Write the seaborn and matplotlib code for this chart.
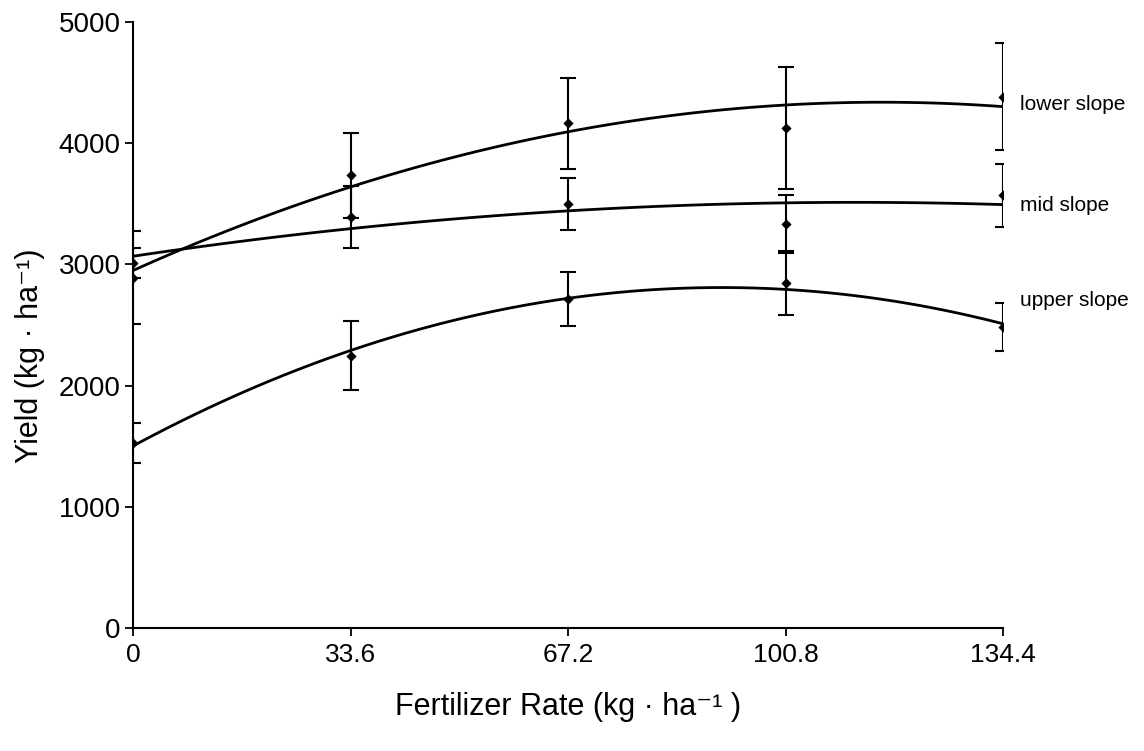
import matplotlib
matplotlib.use("Agg")
import matplotlib.pyplot as plt
import seaborn as sns
import pandas as pd
import numpy as np

# ---- data ----
rates = [0, 33.6, 67.2, 100.8, 134.4]
rate_labels = ["0", "33.6", "67.2", "100.8", "134.4"]

lower_yield = [2890, 3735, 4165, 4125, 4385]
lower_err = [385, 350, 375, 505, 445]

mid_yield = [3010, 3390, 3500, 3335, 3570]
mid_err = [125, 255, 215, 240, 260]

upper_yield = [1525, 2245, 2715, 2845, 2485]
upper_err = [165, 285, 220, 263, 200]

series_names = ["lower slope", "mid slope", "upper slope"]
label_y = [4320, 3490, 2700]

series = {
    "lower slope": (lower_yield, lower_err),
    "mid slope": (mid_yield, mid_err),
    "upper slope": (upper_yield, upper_err),
}

rows = []
for name in series_names:
    ys, es = series[name]
    for r, y, e in zip(rates, ys, es):
        rows.append({"rate": r, "yield": y, "err": e, "position": name})
df = pd.DataFrame(rows)

sns.set_theme(style="white")
plt.rcParams["font.family"] = ["Liberation Sans", "DejaVu Sans"]
plt.rcParams["axes.unicode_minus"] = False

fig = plt.figure(figsize=(11.44, 7.51), dpi=100)
ax = fig.add_axes([0.1163, 0.1638, 0.7605, 0.8069])

for name in series_names:
    sub = df[df["position"] == name]
    sns.regplot(data=sub, x="rate", y="yield", order=2, ci=None,
                scatter=False, truncate=True, ax=ax,
                line_kws=dict(color="black", lw=2.0))
    ax.errorbar(sub["rate"], sub["yield"], yerr=sub["err"], fmt="none",
                ecolor="black", elinewidth=1.5, capsize=6, capthick=1.5,
                zorder=3)

sns.scatterplot(data=df, x="rate", y="yield", marker="D", color="black",
                s=22, edgecolor="black", linewidth=0.5, ax=ax, zorder=4,
                legend=False)

for name, yl in zip(series_names, label_y):
    ax.text(137.0, yl, name, fontsize=15, va="center", ha="left",
            color="black", clip_on=False)

ax.set_xlim(0, 134.4)
ax.set_ylim(0, 5000)
ax.set_xticks(rates)
ax.set_xticklabels(rate_labels, fontsize=19)
ax.set_yticks([0, 1000, 2000, 3000, 4000, 5000])
ax.set_yticklabels(["0", "1000", "2000", "3000", "4000", "5000"], fontsize=20)

ax.set_xlabel("Fertilizer Rate (kg \u00b7 ha\u207b\u00b9 )", fontsize=22,
              labelpad=18, color="black")
ax.set_ylabel("Yield (kg \u00b7 ha\u207b\u00b9)", fontsize=22, color="black")
ax.yaxis.set_label_coords(-0.101, 0.45)

for s in ["top", "right"]:
    ax.spines[s].set_visible(False)
for s in ["left", "bottom"]:
    ax.spines[s].set_color("black")
    ax.spines[s].set_linewidth(1.5)

ax.tick_params(axis="x", bottom=True, direction="out", length=6, width=1.3,
               colors="black", pad=5)
ax.tick_params(axis="y", left=True, direction="out", length=6, width=1.3,
               colors="black", pad=3)
ax.grid(False)

fig.savefig("out.png", dpi=100, facecolor="white")
